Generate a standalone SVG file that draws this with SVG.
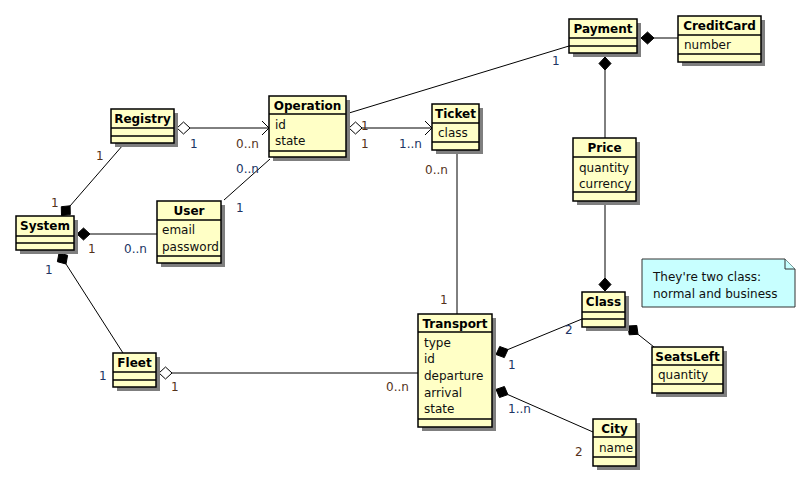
<svg xmlns="http://www.w3.org/2000/svg" width="805" height="481" viewBox="0 0 805 481">
<style>
.sh{fill:#7f7f7f}
.bx{fill:#ffffc6;stroke:#000;stroke-width:1.5}
.sep{stroke:#000;stroke-width:1.4}
.t{font-family:"DejaVu Sans",sans-serif;font-size:12px;font-weight:bold;fill:#000;text-anchor:middle}
.a{font-family:"DejaVu Sans",sans-serif;font-size:12px;fill:#101010}
.l{font-family:"DejaVu Sans",sans-serif;font-size:12px;fill:#203464}
.lb{font-family:"DejaVu Sans",sans-serif;font-size:12px;fill:#54321a}
.ln{stroke:#000;stroke-width:1;fill:none}
.fd{fill:#000;stroke:#000;stroke-width:1}
.hd{fill:#fff;stroke:#000;stroke-width:1}
.note{fill:#c8ffff;stroke:#333;stroke-width:1}
.nt{font-family:"DejaVu Sans",sans-serif;font-size:12px;fill:#101010}
</style>
<rect width="805" height="481" fill="#fff"/>
<g id="connectors">
<!-- Registry - Operation -->
<line class="ln" x1="190" y1="128" x2="269" y2="128"/>
<polygon class="hd" points="177,128 183.5,122 190,128 183.5,134"/>
<polyline class="ln" points="262,121 269,128 262,135"/>
<text class="l" x="190" y="147.5">1</text>
<text class="lb" x="236" y="147.5">0..n</text>
<!-- Operation - Ticket -->
<line class="ln" x1="362" y1="128" x2="432" y2="128"/>
<polygon class="hd" points="349,128 355.5,122 362,128 355.5,134"/>
<polyline class="ln" points="425,121 432,128 425,135"/>
<text class="lb" x="361" y="129.5">1</text>
<text class="lb" x="361" y="147.5">1</text>
<text class="l" x="399" y="147.5">1..n</text>
<!-- Registry - System -->
<line class="ln" x1="70" y1="206" x2="123" y2="145"/>
<polygon class="fd" points="61.5,215.5 70.3,214.6 70.1,205.8 61.3,206.7"/>
<text class="lb" x="96" y="159.5">1</text>
<text class="lb" x="51" y="207">1</text>
<!-- System - User -->
<line class="ln" x1="90" y1="234" x2="157" y2="234"/>
<polygon class="fd" points="77,234 83.5,228 90,234 83.5,240"/>
<text class="lb" x="88" y="252.5">1</text>
<text class="l" x="124" y="252.5">0..n</text>
<!-- User - Operation -->
<line class="ln" x1="224" y1="200" x2="270" y2="159"/>
<text class="l" x="236" y="172.5">0..n</text>
<text class="l" x="236" y="211.5">1</text>
<!-- System - Fleet -->
<line class="ln" x1="66" y1="264" x2="123" y2="353"/>
<polygon class="fd" points="59,253 57.4,261.7 66,264 67.6,255.3"/>
<text class="l" x="45" y="274">1</text>
<!-- Fleet - Transport -->
<line class="ln" x1="172" y1="373" x2="418" y2="373"/>
<polygon class="hd" points="159,373 165.5,367 172,373 165.5,379"/>
<text class="l" x="99" y="380">1</text>
<text class="lb" x="171" y="390.5">1</text>
<text class="lb" x="386" y="390.5">0..n</text>
<!-- Operation - Payment -->
<line class="ln" x1="349" y1="113" x2="569" y2="46"/>
<text class="l" x="552" y="64.5">1</text>
<!-- Payment - CreditCard -->
<line class="ln" x1="654" y1="38" x2="678" y2="38"/>
<polygon class="fd" points="641,38 647.5,32 654,38 647.5,44"/>
<!-- Payment - Price -->
<line class="ln" x1="605" y1="70" x2="605" y2="138"/>
<polygon class="fd" points="605,57 611,63.5 605,70 599,63.5"/>
<!-- Price - Class -->
<line class="ln" x1="605" y1="201" x2="605" y2="278"/>
<polygon class="fd" points="605,291 611,284.5 605,278 599,284.5"/>
<!-- Class - SeatsLeft -->
<line class="ln" x1="638" y1="334.3" x2="654" y2="347"/>
<polygon class="fd" points="628,326 629.2,334.8 638,334.3 636.8,325.5"/>
<!-- Ticket - Transport -->
<line class="ln" x1="457" y1="150" x2="457" y2="314"/>
<text class="lb" x="425" y="173.5">0..n</text>
<text class="lb" x="440" y="303.5">1</text>
<!-- Transport - Class -->
<line class="ln" x1="508" y1="349.5" x2="582" y2="319"/>
<polygon class="fd" points="496,354.5 504.3,357.6 508,349.5 499.7,346.5"/>
<text class="l" x="508" y="369">1</text>
<text class="l" x="565" y="333.5">2</text>
<!-- Transport - City -->
<line class="ln" x1="507.9" y1="394.6" x2="593" y2="432"/>
<polygon class="fd" points="496,389.4 499.5,397.5 507.9,394.6 504.4,386.5"/>
<text class="l" x="508" y="412.5">1..n</text>
<text class="lb" x="575" y="455.5">2</text>
</g>
<g id="Registry">
<rect class="sh" x="115" y="113" width="63" height="34"/>
<rect class="bx" x="111" y="109" width="63" height="34"/>
<line class="sep" x1="111" y1="128" x2="174" y2="128"/>
<line class="sep" x1="111" y1="136" x2="174" y2="136"/>
<text class="t" x="142.5" y="123">Registry</text>
</g>
<g id="Operation">
<rect class="sh" x="273" y="100" width="77" height="61"/>
<rect class="bx" x="269" y="96" width="77" height="61"/>
<line class="sep" x1="269" y1="114" x2="346" y2="114"/>
<line class="sep" x1="269" y1="151" x2="346" y2="151"/>
<text class="t" x="307.5" y="110">Operation</text>
<text class="a" x="275" y="128.5">id</text>
<text class="a" x="275" y="145.2">state</text>
</g>
<g id="Ticket">
<rect class="sh" x="436" y="108" width="47" height="46"/>
<rect class="bx" x="432" y="104" width="47" height="46"/>
<line class="sep" x1="432" y1="123" x2="479" y2="123"/>
<line class="sep" x1="432" y1="142" x2="479" y2="142"/>
<text class="t" x="455.5" y="118">Ticket</text>
<text class="a" x="438" y="137">class</text>
</g>
<g id="Payment">
<rect class="sh" x="573" y="23" width="68" height="34"/>
<rect class="bx" x="569" y="19" width="68" height="34"/>
<line class="sep" x1="569" y1="38" x2="637" y2="38"/>
<line class="sep" x1="569" y1="46" x2="637" y2="46"/>
<text class="t" x="603" y="33">Payment</text>
</g>
<g id="CreditCard">
<rect class="sh" x="682" y="20" width="83" height="46"/>
<rect class="bx" x="678" y="16" width="83" height="46"/>
<line class="sep" x1="678" y1="35" x2="761" y2="35"/>
<line class="sep" x1="678" y1="54" x2="761" y2="54"/>
<text class="t" x="719.5" y="30">CreditCard</text>
<text class="a" x="684" y="49">number</text>
</g>
<g id="Price">
<rect class="sh" x="577" y="142" width="63" height="63"/>
<rect class="bx" x="573" y="138" width="63" height="63"/>
<line class="sep" x1="573" y1="157" x2="636" y2="157"/>
<line class="sep" x1="573" y1="192" x2="636" y2="192"/>
<text class="t" x="604.5" y="152">Price</text>
<text class="a" x="579" y="171.5">quantity</text>
<text class="a" x="579" y="188">currency</text>
</g>
<g id="Note">
<path class="note" d="M642,259 L785,259 L795,269 L795,307 L642,307 Z"/>
<path class="note" d="M785,259 L785,269 L795,269"/>
<text class="nt" x="653" y="281">They're two class:</text>
<text class="nt" x="653" y="297.5">normal and business</text>
</g>
<g id="Class">
<rect class="sh" x="586" y="296" width="43" height="35"/>
<rect class="bx" x="582" y="292" width="43" height="35"/>
<line class="sep" x1="582" y1="312" x2="625" y2="312"/>
<line class="sep" x1="582" y1="319" x2="625" y2="319"/>
<text class="t" x="603.5" y="306">Class</text>
</g>
<g id="SeatsLeft">
<rect class="sh" x="656" y="351" width="71" height="46"/>
<rect class="bx" x="652" y="347" width="71" height="46"/>
<line class="sep" x1="652" y1="365" x2="723" y2="365"/>
<line class="sep" x1="652" y1="384" x2="723" y2="384"/>
<text class="t" x="687.5" y="361">SeatsLeft</text>
<text class="a" x="658" y="379">quantity</text>
</g>
<g id="System">
<rect class="sh" x="20" y="220" width="58" height="34"/>
<rect class="bx" x="16" y="216" width="58" height="34"/>
<line class="sep" x1="16" y1="236" x2="74" y2="236"/>
<line class="sep" x1="16" y1="243" x2="74" y2="243"/>
<text class="t" x="45" y="230">System</text>
</g>
<g id="User">
<rect class="sh" x="161" y="205" width="64" height="62"/>
<rect class="bx" x="157" y="201" width="64" height="62"/>
<line class="sep" x1="157" y1="220" x2="221" y2="220"/>
<line class="sep" x1="157" y1="256" x2="221" y2="256"/>
<text class="t" x="189" y="215">User</text>
<text class="a" x="162" y="234">email</text>
<text class="a" x="162" y="251">password</text>
</g>
<g id="Transport">
<rect class="sh" x="422" y="318" width="74" height="113"/>
<rect class="bx" x="418" y="314" width="74" height="113"/>
<line class="sep" x1="418" y1="332" x2="492" y2="332"/>
<line class="sep" x1="418" y1="419" x2="492" y2="419"/>
<text class="t" x="455" y="328">Transport</text>
<text class="a" x="424" y="346.5">type</text>
<text class="a" x="424" y="363.2">id</text>
<text class="a" x="424" y="379.9">departure</text>
<text class="a" x="424" y="396.6">arrival</text>
<text class="a" x="424" y="413.3">state</text>
</g>
<g id="City">
<rect class="sh" x="597" y="423" width="43" height="47"/>
<rect class="bx" x="593" y="419" width="43" height="47"/>
<line class="sep" x1="593" y1="437" x2="636" y2="437"/>
<line class="sep" x1="593" y1="457" x2="636" y2="457"/>
<text class="t" x="614.5" y="433">City</text>
<text class="a" x="599" y="452">name</text>
</g>
<g id="Fleet">
<rect class="sh" x="117" y="357" width="43" height="34"/>
<rect class="bx" x="113" y="353" width="43" height="34"/>
<line class="sep" x1="113" y1="372" x2="156" y2="372"/>
<line class="sep" x1="113" y1="380" x2="156" y2="380"/>
<text class="t" x="134.5" y="367">Fleet</text>
</g>
</svg>
